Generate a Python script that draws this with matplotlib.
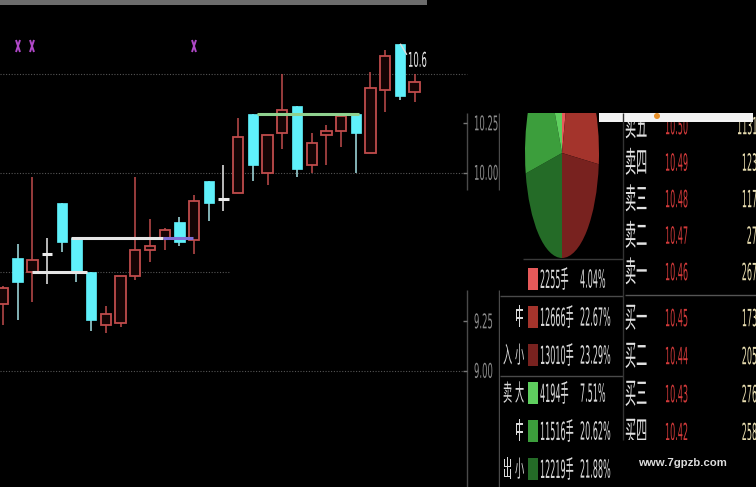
import numpy as np
import matplotlib
matplotlib.use("Agg")
import matplotlib.pyplot as plt
from matplotlib import patheffects
from matplotlib.markers import MarkerStyle
from matplotlib.patches import Rectangle, Circle
from matplotlib.transforms import Affine2D, Bbox, TransformedBbox

W, H = 756, 487

# ---- values ----
# daily candles, oldest first
opens = [9.34, 9.57, 9.50, 9.59, 9.85, 9.67, 9.50, 9.23, 9.24, 9.48,
         9.61, 9.67, 9.75, 9.66, 9.96, 9.87, 9.90, 10.30, 10.00, 10.20,
         10.34, 10.04, 10.19, 10.21, 10.30, 10.10, 10.42, 10.65, 10.41]
highs = [9.43, 9.64, 9.98, 9.67, 9.85, 9.67, 9.50, 9.33, 9.48, 9.98,
         9.77, 9.72, 9.78, 9.89, 9.96, 10.04, 10.28, 10.30, 10.19, 10.50,
         10.34, 10.20, 10.24, 10.29, 10.30, 10.51, 10.62, 10.65, 10.50]
lows = [9.23, 9.26, 9.35, 9.44, 9.60, 9.45, 9.20, 9.19, 9.22, 9.46,
        9.55, 9.61, 9.63, 9.59, 9.76, 9.81, 9.90, 9.96, 9.94, 10.12,
        9.98, 10.00, 10.04, 10.13, 10.00, 10.10, 10.31, 10.37, 10.36]
closes = [9.42, 9.45, 9.56, 9.59, 9.65, 9.50, 9.26, 9.29, 9.48, 9.61,
          9.63, 9.71, 9.65, 9.86, 9.85, 9.87, 10.18, 10.04, 10.19, 10.32,
          10.02, 10.15, 10.21, 10.29, 10.20, 10.43, 10.59, 10.39, 10.46]

# signal marks ("x") above some days
signal_idx = [1, 2, 13]
signal_price = 10.64

# horizontal support / resistance segments (start, end in day index)
level_start = [2.0, 4.65, 10.9, 17.3]
level_end = [5.7, 10.9, 12.9, 24.2]
level_price = [9.50, 9.67, 9.67, 10.30]
level_kind = ['white', 'white', 'purple', 'green']

axis_ticks = [10.25, 10.00, 9.25, 9.00]

# money flow: inflow big/mid/small, outflow big/mid/small
flow_vol = [2255, 12666, 13010, 4194, 11516, 12219]
flow_pct = [4.04, 22.67, 23.29, 7.51, 20.62, 21.88]
size_tags = ['', '中', '小', '大', '中', '小']
side_tags = ['', '', '入', '卖', '', '出']

# order book
ask_names = ['卖一', '卖二', '卖三', '卖四', '卖五']
ask_price = [10.46, 10.47, 10.48, 10.49, 10.50]
ask_vol = [267, 27, 117, 123, 1131]
bid_names = ['买一', '买二', '买三', '买四']
bid_price = [10.45, 10.44, 10.43, 10.42]
bid_vol = [173, 205, 276, 258]

# ---- styles ----
UP = '#c04c4c'
UP_FACE = '#140404'
DOWN = '#5ff0fa'
DOWN_WICK = '#a6e2e6'
FLAT = '#ececec'
LEVEL_COLORS = {'white': '#e6e6e6', 'purple': '#7f6fd6', 'green': '#8fd18f'}
FLOW_COLORS = ['#e65a5a', '#a4342c', '#78221f', '#5fcf5f', '#3c9e3c', '#246b27']
LINE = '#4a4a4a'
CJK = ['Noto Sans CJK SC', 'DejaVu Sans']
NUM = ['DejaVu Sans', 'Noto Sans CJK SC']


class Stretch(patheffects.AbstractPathEffect):
    """make glyphs taller, like the terminal's narrow font"""

    def __init__(self, sy):
        super().__init__()
        self.sy = sy

    def draw_path(self, renderer, gc, tpath, affine, rgbFace=None):
        ext = tpath.get_extents()
        yc = 0.5 * (ext.y0 + ext.y1)
        st = Affine2D().translate(0, -yc).scale(1, self.sy).translate(0, yc)
        renderer.draw_path(gc, tpath, st + affine, rgbFace)


def tall_text(ax, x, y, s, size, sy, color, ha='left', family=NUM, **kw):
    return ax.text(x, y, s, fontsize=size, color=color, ha=ha, va='center',
                   family=family, path_effects=[Stretch(sy)], **kw)


def px_rect(x0, y0, x1, y1):
    return [x0 / W, 1 - y1 / H, (x1 - x0) / W, (y1 - y0) / H]


# price <-> screen calibration of the kline panel
Y_TEN, PX_PER_UNIT = 173, 198.0
X_FIRST, PX_PER_DAY = 3, 14.7


def price_at(ypx):
    return 10.0 - (ypx - Y_TEN) / PX_PER_UNIT


def day_at(xpx):
    return (xpx - X_FIRST) / PX_PER_DAY


fig = plt.figure(figsize=(W / 100, H / 100), dpi=100, facecolor='black')

# ---------------- kline panel ----------------
ax = fig.add_axes(px_rect(0, 0, 500, H))
ax.set_facecolor('black')
ax.set_xlim(day_at(0), day_at(500))
ax.set_ylim(price_at(H), price_at(0))
ax.set_axis_off()

o, h, l, c = (np.array(v) for v in (opens, highs, lows, closes))
x = np.arange(len(o))
up, down, flat = c > o, c < o, c == o

grid_kw = dict(colors='#555555', linestyles=(0, (1, 1.5)), lw=0.8, zorder=1)
ax.hlines([10.5, 10.0, 9.0], day_at(0), day_at(467), **grid_kw)
ax.hlines([9.5], day_at(0), day_at(230), **grid_kw)
ax.axhspan(price_at(5), price_at(0), xmin=0, xmax=427 / 500, color='#6c6c6c', lw=0)

# right price scale
for seg in [(113, 190), (290, H)]:
    ax.vlines([day_at(467), day_at(499)], price_at(seg[1]), price_at(seg[0]),
              colors=LINE, lw=1)
ax.hlines(axis_ticks, day_at(463), day_at(467), colors='#777777', lw=1)
for t in axis_ticks:
    tall_text(ax, day_at(474), t, f'{t:.2f}', 6.1, 2.4, '#8c8c8c')

wick_colors = np.where(up, UP, np.where(down, DOWN_WICK, FLAT))
ax.vlines(x, l, h, colors=wick_colors, lw=1.1, zorder=2)
ax.bar(x[up], (c - o)[up], bottom=o[up], width=0.7, facecolor=UP_FACE,
       edgecolor=UP, lw=1.3, zorder=3)
ax.bar(x[down], (o - c)[down], bottom=c[down], width=0.72, color=DOWN,
       edgecolor=DOWN, lw=0.5, zorder=3)
ax.bar(x[flat], 0, bottom=o[flat], width=0.7, color=FLAT, edgecolor=FLAT,
       lw=2.2, zorder=3)

for x0, x1, p, k in zip(level_start, level_end, level_price, level_kind):
    ax.hlines(p, x0, x1, colors=LEVEL_COLORS[k], lw=2.2, zorder=4)

ax.plot(signal_idx, [signal_price] * len(signal_idx), ls='none',
        marker=MarkerStyle('x', transform=Affine2D().scale(0.42, 1.0)),
        ms=8, mec='#b048c8', mew=1.4, zorder=4)

# highest price tag
top = int(np.argmax(h))
ax.plot([top + 0.05, top + 0.45], [h[top], h[top] - 0.05], color='#dddddd', lw=1, zorder=4)
tag = tall_text(ax, top + 0.55, h[top] - 0.079, f'{h[top]:.2f}', 6.1, 2.4,
                '#e8e8e8', clip_on=True)
tag.set_clip_box(TransformedBbox(Bbox.from_extents(0, 8, day_at(427), 11), ax.transData))

# ---------------- money flow pie ----------------
ax_pie = fig.add_axes(px_rect(525, 113, 599, 258))
order = [0, 1, 2, 5, 4, 3]
wedges, _ = ax_pie.pie([flow_vol[k] for k in order],
                       colors=[FLOW_COLORS[k] for k in order],
                       startangle=90, counterclock=False,
                       wedgeprops=dict(linewidth=0))
for w in wedges:
    w.set_clip_on(True)
ax_pie.set_xlim(-1, 1)
ax_pie.set_ylim(-1, 40 / 105)
ax_pie.set_aspect('auto')
ax_pie.set_axis_off()

# ---------------- order book ----------------
ax_book = fig.add_axes(px_rect(600, 113, W, 440))
ax_book.set_xlim(600, W)
ax_book.set_ylim(440, 113)
ax_book.set_axis_off()

ask_rows = [272 - 36.5 * i for i in range(len(ask_names))]
bid_rows = [318 + 38 * i for i in range(len(bid_names))]
for names, prices, vols, rows in [(ask_names, ask_price, ask_vol, ask_rows),
                                  (bid_names, bid_price, bid_vol, bid_rows)]:
    for n, p, v, y in zip(names, prices, vols, rows):
        tall_text(ax_book, 625, y, n, 8.0, 2.65, '#e2e2e2', family=CJK, clip_on=True)
        tall_text(ax_book, 665, y, f'{p:.2f}', 5.8, 2.95, '#d23a3a', clip_on=True)
        tall_text(ax_book, 757, y, str(v), 5.8, 2.95, '#e8ddb0', ha='right', clip_on=True)

# ---------------- overlay: frame lines, legend, bar ----------------
ax_px = fig.add_axes([0, 0, 1, 1], zorder=5)
ax_px.set_xlim(0, W)
ax_px.set_ylim(H, 0)
ax_px.set_axis_off()
ax_px.patch.set_alpha(0)

ax_px.hlines([259], 523, 623, colors='#3a3a3a', lw=1)
ax_px.hlines([296, 376], 500, 623, colors=LINE, lw=1)
ax_px.hlines([295], 625, W, colors='#555555', lw=1)
ax_px.vlines([623], 113, 440, colors='#333333', lw=1)

legend_rows = [279 + 38 * i for i in range(len(flow_vol))]
for k, y in enumerate(legend_rows):
    ax_px.add_patch(Rectangle((528, y - 11), 10, 22, color=FLOW_COLORS[k], lw=0))
    tall_text(ax_px, 540, y, f'{flow_vol[k]}手', 5.8, 3.1, '#dadada')
    tall_text(ax_px, 580, y, f'{flow_pct[k]:.2f}%', 5.8, 3.1, '#dadada')
    if size_tags[k]:
        tall_text(ax_px, 515, y, size_tags[k], 6.6, 2.55, '#dadada', family=CJK)
    if side_tags[k]:
        tall_text(ax_px, 503, y, side_tags[k], 6.6, 2.55, '#dadada', family=CJK)

ax_px.add_patch(Rectangle((599, 113), 154, 9, color='#f3f3f3', lw=0))
ax_px.add_patch(Circle((657, 116), 3, color='#e8902a', lw=0))
ax_px.text(638, 463, 'www.7gpzb.com', family='Liberation Sans', weight='bold',
           fontsize=8.2, color='#dcdcdc', va='center', ha='left')

fig.savefig('out.png', dpi=100, facecolor='black')
